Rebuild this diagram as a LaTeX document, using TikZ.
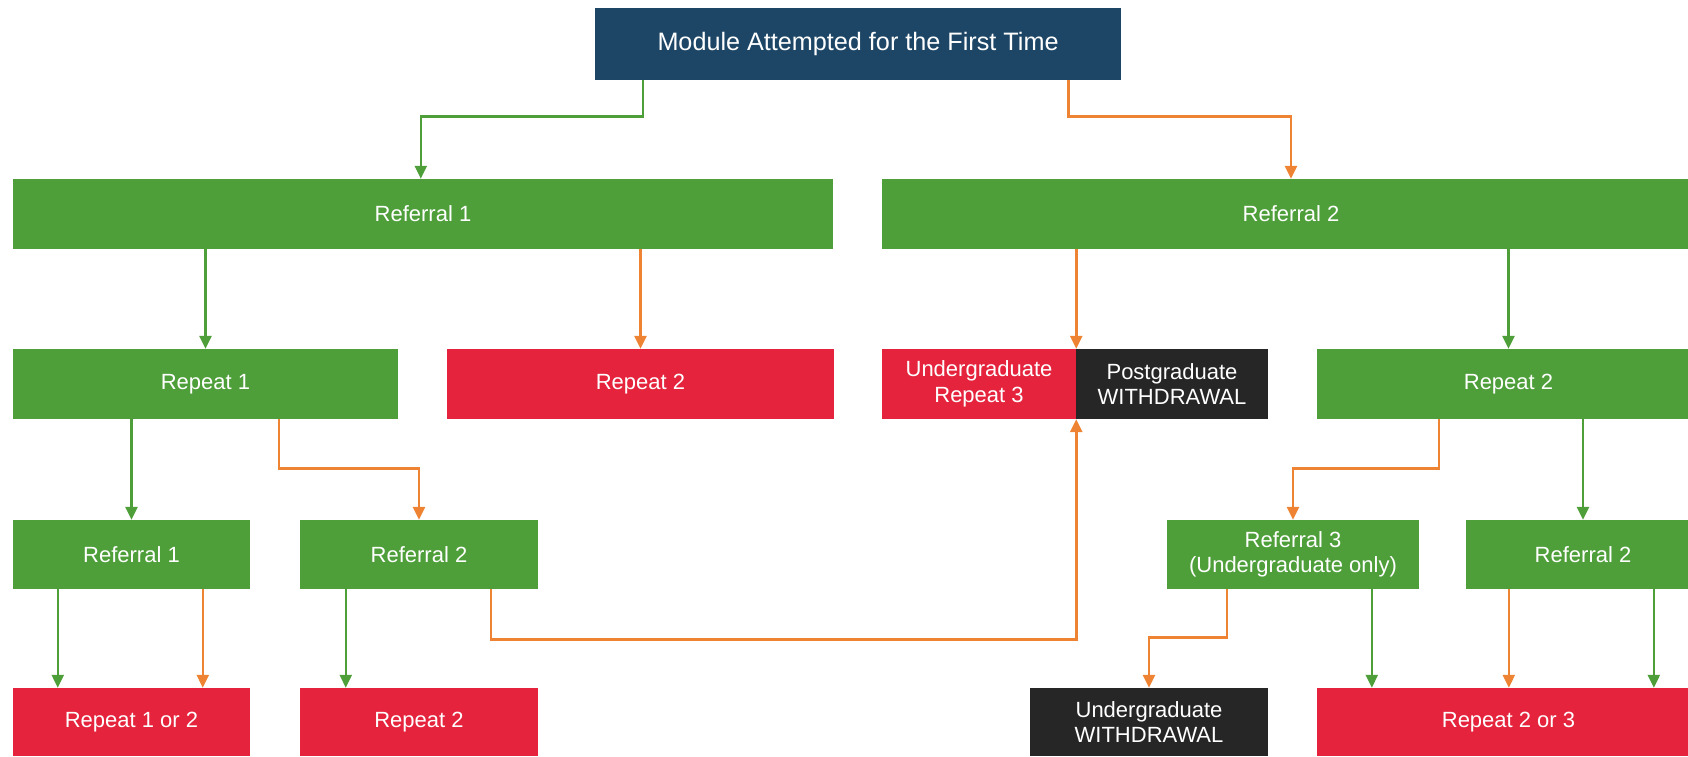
\documentclass[tikz,border=0pt]{standalone}
\usepackage{fontspec}
\setmainfont{Liberation Sans}
\usetikzlibrary{arrows.meta,calc}
\definecolor{dblue}{HTML}{1D4666}
\definecolor{cgreen}{HTML}{4E9F3A}
\definecolor{cred}{HTML}{E5233D}
\definecolor{cdark}{HTML}{262626}
\definecolor{corange}{HTML}{EE8433}
\tikzset{
  box/.style={rectangle, inner sep=0pt, text=white, align=center,
    font=\fontsize{22}{25.5}\selectfont},
  gbox/.style={box, fill=cgreen},
  rbox/.style={box, fill=cred},
  kbox/.style={box, fill=cdark},
  conn/.style={line width=2.6pt, -{Triangle[length=13pt,width=12pt]}},
  garr/.style={conn, draw=cgreen},
  oarr/.style={conn, draw=corange},
}
\begin{document}
\begin{tikzpicture}[x=1pt,y=-1pt]
\useasboundingbox (0,0) rectangle (1688,756);
\clip (0,0) rectangle (1688,756);
% top
\node[box, fill=dblue, minimum width=526pt, minimum height=72pt,
  font=\fontsize{25.2}{28}\selectfont] (top) at (858,44) {Module Attempted for the First Time};
% row 1
\node[gbox, minimum width=820pt, minimum height=70pt] (r1) at (423,214) {Referral 1};
\node[gbox, minimum width=818pt, minimum height=70pt] (r2) at (1291,214) {Referral 2};
% row 2
\node[gbox, minimum width=385pt, minimum height=70pt] (p1) at (205.5,384) {Repeat 1};
\node[rbox, minimum width=387pt, minimum height=70pt] (p2) at (640.5,384) {Repeat 2};
\node[rbox, minimum width=194pt, minimum height=70pt] (ug3) at (979,384) {Undergraduate\\Repeat 3};
\node[kbox, minimum width=192pt, minimum height=70pt] (pgw) at (1172,384) {Postgraduate\\WITHDRAWAL};
\node[gbox, minimum width=383pt, minimum height=70pt] (p2r) at (1508.5,384) {Repeat 2};
% row 3
\node[gbox, minimum width=237pt, minimum height=69pt] (q1) at (131.5,554.5) {Referral 1};
\node[gbox, minimum width=238pt, minimum height=69pt] (q2) at (419,554.5) {Referral 2};
\node[gbox, minimum width=252pt, minimum height=69pt] (q3) at (1293,554.5) {Referral 3\\(Undergraduate only)};
\node[gbox, minimum width=234pt, minimum height=69pt] (q4) at (1583,554.5) {Referral 2};
% row 4
\node[rbox, minimum width=237pt, minimum height=68pt] (b1) at (131.5,722) {Repeat 1 or 2};
\node[rbox, minimum width=238pt, minimum height=68pt] (b2) at (419,722) {Repeat 2};
\node[kbox, minimum width=238pt, minimum height=68pt] (b3) at (1149,722) {Undergraduate\\WITHDRAWAL};
\node[rbox, minimum width=383pt, minimum height=68pt] (b4) at (1508.5,722) {Repeat 2 or 3};
% connectors
\draw[garr] ([xshift=48pt]top.south west) -- ++(0,36) -| ([xshift=408pt]r1.north west);
\draw[oarr] ([xshift=-53pt]top.south east) -- ++(0,36) -| (r2.north);
\draw[garr] (p1.north |- r1.south) -- (p1.north);
\draw[oarr] (p2.north |- r1.south) -- (p2.north);
\draw[oarr] (ug3.north east |- r2.south) -- (ug3.north east);
\draw[garr] (p2r.north |- r2.south) -- (p2r.north);
\draw[garr] (q1.north |- p1.south) -- (q1.north);
\draw[oarr] ([xshift=266pt]p1.south west) -- ++(0,49) -| (q2.north);
\draw[garr] ([xshift=45pt]q1.south west) -- ([xshift=45pt]b1.north west);
\draw[oarr] ([xshift=190pt]q1.south west) -- ([xshift=190pt]b1.north west);
\draw[garr] ([xshift=46pt]q2.south west) -- ([xshift=46pt]b2.north west);
\draw[oarr] ([xshift=191pt]q2.south west) -- ++(0,50) -| (ug3.south east);
\draw[oarr] ([xshift=122pt]p2r.south west) -- ++(0,49) -| (q3.north);
\draw[garr] (q4.north |- p2r.south) -- (q4.north);
\draw[oarr] ([xshift=60pt]q3.south west) -- ++(0,48) -| (b3.north);
\draw[garr] ([xshift=205pt]q3.south west) -- ([xshift=205pt]q3.south west |- b4.north);
\draw[oarr] ([xshift=43pt]q4.south west) -- ([xshift=43pt]q4.south west |- b4.north);
\draw[garr] ([xshift=188pt]q4.south west) -- ([xshift=188pt]q4.south west |- b4.north);
\end{tikzpicture}
\end{document}
